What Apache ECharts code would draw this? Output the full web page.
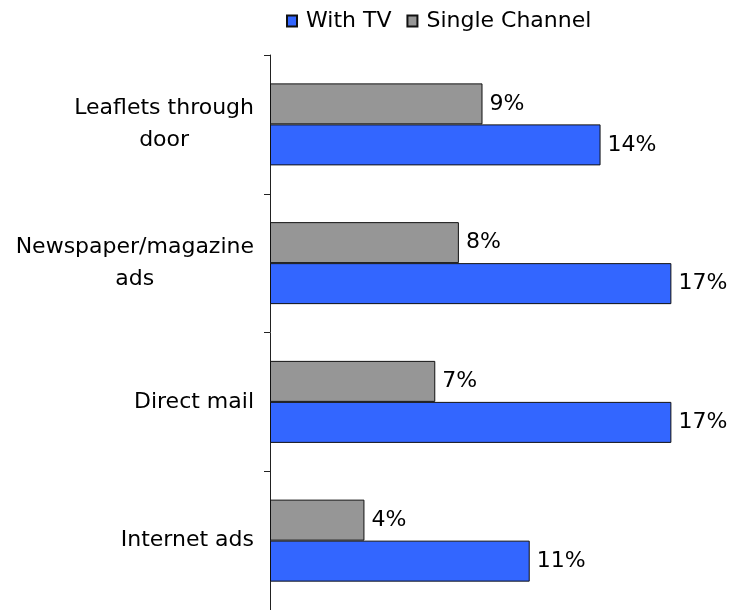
<!DOCTYPE html>
<html>
<head>
<meta charset="utf-8">
<script src="https://cdn.jsdelivr.net/npm/echarts@6/dist/echarts.min.js"></script>
<style>
  html, body { margin: 0; padding: 0; background: #fff; }
  #chart { width: 729px; height: 610px; }
</style>
</head>
<body>
<div id="chart"></div>
<script>
// Where people saw the campaign: share of respondents by medium
const categories = ['Leaflets through\ndoor', 'Newspaper/magazine\nads', 'Direct mail', 'Internet ads'];
const singleChannel = [9, 8, 7, 4];
const withTV = [14, 17, 17, 11];

const FONT = 'DejaVu Sans';
const chart = echarts.init(document.getElementById('chart'));

const labelStyle = {
  show: true,
  position: 'right',
  distance: 7,
  formatter: '{c}%',
  color: '#000',
  fontFamily: FONT,
  fontSize: 22
};

chart.setOption({
  animation: false,
  legend: {
    top: 5,
    left: 281,
    itemWidth: 10,
    itemHeight: 11,
    itemGap: 15,
    icon: 'rect',
    data: ['With TV', 'Single Channel'],
    textStyle: { color: '#000', fontFamily: FONT, fontSize: 22, padding: [0, 0, 0, 4] }
  },
  grid: { left: 270, top: 55, width: 425, bottom: -1 },
  xAxis: {
    type: 'value',
    min: 0,
    max: 18,
    show: false
  },
  yAxis: {
    type: 'category',
    inverse: true,
    data: categories,
    axisLine: { show: true, lineStyle: { color: '#222', width: 1 } },
    axisTick: { show: true, length: 6, lineStyle: { color: '#222' } },
    axisLabel: {
      margin: 16,
      formatter: function (v) {
        return v.split('\n').map(function (s) { return '{c|' + s + '}'; }).join('\n');
      },
      rich: {
        c: { align: 'center', color: '#000', fontFamily: FONT, fontSize: 22, lineHeight: 32 }
      }
    }
  },
  series: [
    {
      name: 'Single Channel',
      type: 'bar',
      data: singleChannel,
      barWidth: 41,
      barGap: '0%',
      itemStyle: { color: '#969696', borderColor: '#111', borderWidth: 1 },
      label: labelStyle
    },
    {
      name: 'With TV',
      type: 'bar',
      data: withTV,
      barWidth: 41,
      barGap: '0%',
      itemStyle: { color: '#3366FF', borderColor: '#111', borderWidth: 1 },
      label: labelStyle
    }
  ]
});
</script>
</body>
</html>
